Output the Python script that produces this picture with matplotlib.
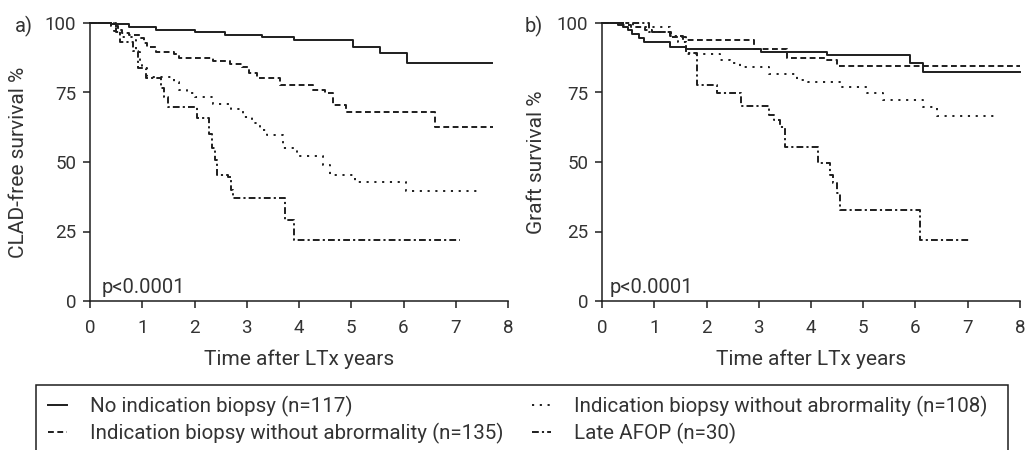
import matplotlib.pyplot as plt
from matplotlib.patches import Rectangle

plt.rcParams['font.family'] = ['Roboto', 'DejaVu Sans']

# a) CLAD-free survival
a_none_t = [0, 0.4, 0.75, 1.26, 2.0, 2.58, 3.3, 3.9, 5.03, 5.55, 6.07, 7.69]
a_none_s = [100, 99.5, 98.5, 97.6, 96.6, 95.8, 95.0, 94.0, 91.5, 89.1, 85.7, 85.7]

a_ind_t = [0, 0.4, 0.54, 0.62, 0.75, 0.95, 1.03, 1.1, 1.26, 1.6, 1.7, 2.36, 2.68, 2.9, 3.05, 3.2,
           3.64, 4.27, 4.5, 4.65, 4.9, 6.6, 7.72]
a_ind_s = [100, 99, 97.5, 96.3, 95.6, 94.5, 92.8, 91.4, 89.6, 88.8, 87.4, 86.3, 85.2, 84, 82, 80.2,
           77.7, 75.9, 74.8, 70.5, 68.1, 62.7, 62.7]

a_abn_t = [0, 0.45, 0.57, 0.82, 0.88, 0.95, 1.0, 1.1, 1.6, 1.7, 1.85, 2.0, 2.35, 2.7, 2.93, 3.1,
           3.25, 3.38, 3.7, 3.96, 4.45, 4.6, 5.07, 6.05, 7.5]
a_abn_s = [100, 97, 95, 93.9, 89.6, 86.5, 83.8, 80.6, 78.8, 75.9, 74.8, 73.5, 71, 69, 66.2, 64,
           61.5, 59.7, 55, 52, 48.9, 45.3, 42.8, 39.6, 39.6]

a_afop_t = [0, 0.5, 0.58, 0.82, 0.92, 1.07, 1.36, 1.42, 1.5, 2.05, 2.28, 2.33, 2.39, 2.43, 2.64,
            2.7, 2.74, 3.73, 3.9, 7.08]
a_afop_s = [100, 96.7, 93.3, 90, 83.8, 80.2, 76.7, 73.3, 69.8, 65.8, 60, 55, 50.7, 45.3, 44.6,
            40, 37, 29.1, 21.9, 21.9]

# b) Graft survival
b_none_t = [0, 0.3, 0.4, 0.5, 0.58, 0.7, 0.8, 1.3, 1.6, 3.05, 4.3, 5.9, 6.14, 8.0]
b_none_s = [100, 99.3, 98.4, 97.5, 96, 94.6, 93.2, 91.4, 90.6, 89.7, 88.5, 85.6, 82.4, 82.4]

b_ind_t = [0, 0.4, 0.55, 0.82, 0.95, 1.32, 1.6, 2.9, 3.54, 4.3, 4.5, 8.0]
b_ind_s = [100, 99.3, 98.6, 97.5, 96.6, 95, 93.8, 90.6, 87.4, 86.7, 84.5, 84.5]

b_abn_t = [0, 0.6, 1.3, 1.45, 1.6, 2.26, 2.45, 2.64, 3.2, 3.73, 3.95, 4.6, 5.07, 5.38, 6.14,
           6.41, 7.56]
b_abn_s = [100, 98.5, 95, 93, 89, 86.7, 85.6, 84, 81.7, 79.5, 78.6, 77, 74.8, 72.3, 69.8,
           66.5, 66.5]

b_afop_t = [0, 0.9, 1.3, 1.55, 1.6, 1.82, 2.2, 2.66, 3.2, 3.3, 3.4, 3.5, 4.13, 4.36, 4.42,
            4.5, 4.55, 6.09, 7.04]
b_afop_s = [100, 96.6, 95.3, 93, 89.2, 77.7, 74.8, 70.1, 66.9, 65, 62.6, 55.4, 49.6, 45.5, 42.4,
            38.8, 32.7, 21.9, 21.9]

labels = ['No indication biopsy (n=117)',
          'Indication biopsy without abrormality (n=135)',
          'Indication biopsy without abrormality (n=108)',
          'Late AFOP (n=30)']
styles = ['-', (0, (3.0, 1.8)), (0, (1.1, 2.9)), (0, (3.5, 1.6, 1.1, 1.6))]

ink = '#1e1e1e'
txt = '#333333'

fig = plt.figure(figsize=(10.35, 4.5), dpi=100)
ax_a = fig.add_axes([90/1035, 1-301/450, 418/1035, 278/450])
ax_b = fig.add_axes([602/1035, 1-301/450, 418/1035, 278/450])

panels = [
    (ax_a, [(a_none_t, a_none_s), (a_ind_t, a_ind_s), (a_abn_t, a_abn_s), (a_afop_t, a_afop_s)],
     'CLAD-free survival %', 0.22, -0.148),
    (ax_b, [(b_none_t, b_none_s), (b_ind_t, b_ind_s), (b_abn_t, b_abn_s), (b_afop_t, b_afop_s)],
     'Graft survival %', 0.15, -0.134),
]

handles = []
for ax, series, ylab, px, ylx in panels:
    for (t, s), ls, lab in zip(series, styles, labels):
        ln, = ax.step(t, s, where='post', color=ink, lw=1.4, linestyle=ls, clip_on=False, label=lab)
        if ax is ax_a:
            handles.append(ln)
    ax.set_xlim(0, 8)
    ax.set_ylim(0, 100)
    ax.set_xticks(range(0, 9))
    ax.set_yticks([0, 25, 50, 75, 100])
    for side in ['top', 'right']:
        ax.spines[side].set_visible(False)
    for side in ['left', 'bottom']:
        ax.spines[side].set_linewidth(1.1)
        ax.spines[side].set_color(ink)
    ax.tick_params(direction='out', length=5, width=1.1, colors=ink, labelcolor=txt,
                   labelsize=13.5, pad=5)
    ax.tick_params(axis='x', pad=8)
    ax.set_xlabel('Time after LTx years', fontsize=15, color=txt, labelpad=9)
    ax.set_ylabel(ylab, fontsize=15, color=txt)
    ax.yaxis.set_label_coords(ylx, 0.5)
    ax.text(px, 3, 'p<0.0001', fontsize=14.5, color=txt, va='baseline')

fig.text(15/1035, 1-32/450, 'a)', fontsize=14.5, color=txt, va='baseline')
fig.text(525/1035, 1-32/450, 'b)', fontsize=14.5, color=txt, va='baseline')

# legend frame, open at the bottom edge
fig.patches.append(Rectangle((36/1035, -0.1), 972/1035, 0.1+1-385/450, transform=fig.transFigure,
                             fill=False, edgecolor=ink, lw=1.1))

leg_kw = dict(frameon=False, fontsize=14.8, handlelength=0.9, handletextpad=1.15,
              labelspacing=0.3, borderpad=0, borderaxespad=0, labelcolor=txt, loc='upper left')
fig.legend(handles[:2], labels[:2], bbox_to_anchor=(48/1035, 1-396/450), **leg_kw)
fig.legend(handles[2:], labels[2:], bbox_to_anchor=(532/1035, 1-396/450), **leg_kw)

fig.savefig('out.png', dpi=100)
